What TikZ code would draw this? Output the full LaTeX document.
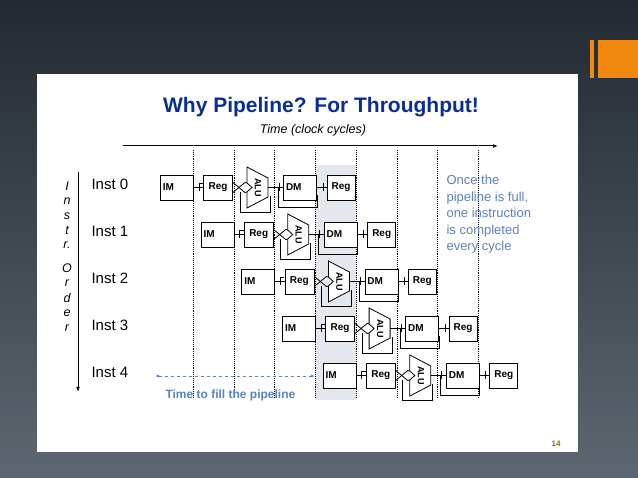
\documentclass[tikz,border=0pt]{standalone}
\usepackage{fontspec}
\setmainfont{Liberation Sans}
\usetikzlibrary{arrows.meta}
\definecolor{bgtop}{HTML}{222932}
\definecolor{bgbot}{HTML}{5C6771}
\definecolor{orng}{HTML}{F28A12}
\definecolor{ttl}{HTML}{0A2E96}
\definecolor{note}{HTML}{5A82C4}
\definecolor{colshd}{HTML}{E3E7EE}
\tikzset{
  stg/.style={draw, fill=white, line width=0.8pt, minimum height=25pt, inner sep=0pt, font=\fontsize{10}{11}\selectfont\bfseries},
  vline/.style={densely dotted, line width=0.9pt},
  wire/.style={line width=0.8pt}
}
\begin{document}
\begin{tikzpicture}[x=1pt,y=-1pt]
\useasboundingbox (0,0) rectangle (638,478);
\shade[top color=bgtop, bottom color=bgbot] (0,0) rectangle (638,478);
\fill[orng] (590,40) rectangle (594,78);
\fill[orng] (598,40) rectangle (638,78);
\fill[white] (37,74) rectangle (578,452);
\fill[colshd] (315,165) rectangle (356,400);
\node[font=\fontsize{21}{24}\selectfont\bfseries, text=ttl] (title) at (321,107) {Why Pipeline? For Throughput!};
\node[font=\fontsize{12.5}{14}\selectfont\itshape] (time) at (313,130) {Time (clock cycles)};
\coordinate (ta) at (123,146); \coordinate (tb) at (498,146);
\draw[line width=1pt, -{Latex[length=5pt]}] (ta) -- (tb);
\foreach \x [count=\k] in {193,234,274,315,356,397,437,478}{
  \coordinate (vt\k) at (\x,150); \coordinate (vb\k) at (\x,398);
  \draw[vline] (vt\k) -- (vb\k);}
% left axis
\foreach \c/\y [count=\k] in {I/186,n/201,s/216,t/231,r./245,O/268,r/283,d/298,e/313,r/328}
  \node[font=\fontsize{12.5}{14}\selectfont\itshape] (lt\k) at (67,\y) {\c};
\coordinate (oa) at (78,172); \coordinate (ob) at (78,392);
\draw[line width=1pt, -{Latex[length=5pt]}] (oa) -- (ob);
\foreach \i in {0,...,4}{
  \pgfmathsetmacro{\dx}{40.7*\i}
  \pgfmathsetmacro{\dy}{47*\i}
  \node[font=\fontsize{15}{17}\selectfont, anchor=west] (inst\i) at (88,184+\dy) {Inst \i};
  \begin{scope}[shift={(\dx,\dy)}]
    \draw[wire] (240,192) |- (270,212) -- (270,196);
    \draw[wire] (278,187.5) |- (317,207) -- (317,195);
    \node[stg, minimum width=33pt, anchor=west, text width=28pt, align=left] (im\i) at (160,187.5) {IM};
    \node[stg, minimum width=29pt] (ra\i) at (218,187.5) {Reg};
    \draw[wire, fill=white] (247,167) -- (268,178) -- (268,197) -- (247,208) -- (247,192) -- (252,187.5) -- (247,183) -- cycle;
    \node[font=\fontsize{9}{10}\selectfont\bfseries, rotate=-90] (alu\i) at (258,187.5) {ALU};
    \node[stg, minimum width=33pt, text width=28pt, align=left] (dm\i) at (300,187.5) {DM};
    \node[stg, minimum width=28pt] (rb\i) at (341,187.5) {Reg};
    \draw[wire] (im\i.east) -- (ra\i.west);
    \draw[wire] (199,183) -- (199,191) (199,183) -- (203,183);
    \draw[wire] ([yshift=-5pt]ra\i.east) -- (245,182.5) -- (247,183);
    \draw[wire] ([yshift=5pt]ra\i.east) -- (245,192.5) -- (247,192);
    \draw[wire] (268,187.5) -- (dm\i.west);
    \draw[wire] (279,183) -- (279,191);
    \draw[wire] (dm\i.east) -- (rb\i.west);
    \draw[wire] (323,183) -- (323,191);
  \end{scope}
}
\node[font=\fontsize{13}{16.5}\selectfont, text=note, anchor=north west, align=left] (once) at (443,172) {Once the\\pipeline is full,\\one instruction\\is completed\\every cycle};
\coordinate (fa) at (155,376); \coordinate (fb) at (315,376);
\draw[note, line width=0.8pt, dashed, {Latex[length=4pt]}-{Latex[length=4pt]}] (fa) -- (fb);
\node[font=\fontsize{12}{14}\selectfont\bfseries, text=note, anchor=west] (fill) at (162,395) {Time to fill the pipeline};
\node[font=\fontsize{8}{9}\selectfont\bfseries, text=orng!70!black] (pg) at (556,444) {14};
\end{tikzpicture}
\end{document}
